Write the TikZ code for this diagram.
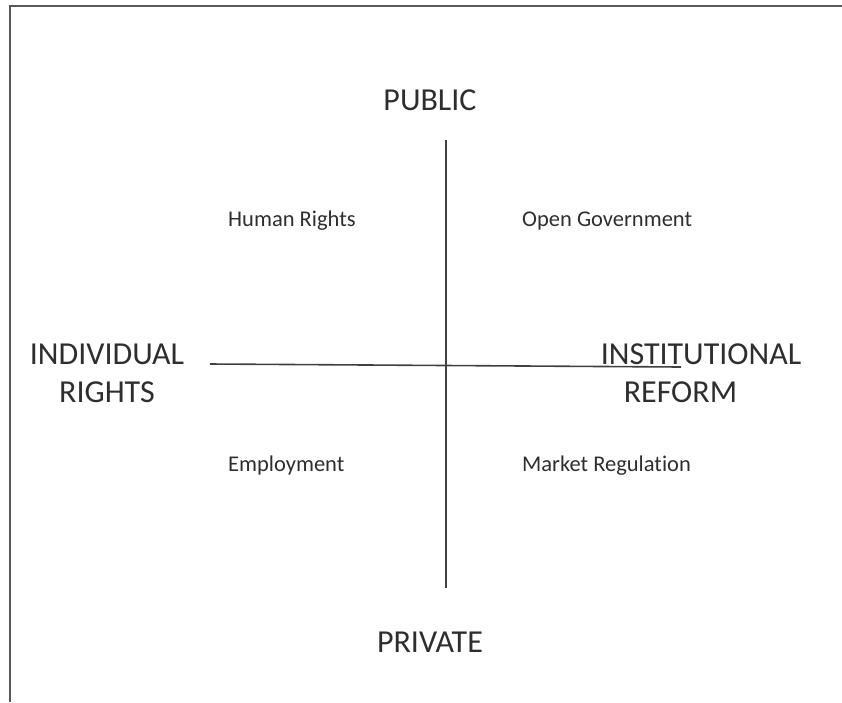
\documentclass[tikz,border=0pt]{standalone}
\usepackage{fontspec}
\setmainfont[Ligatures=NoCommon]{Carlito}
\definecolor{axisgray}{HTML}{404040}
\definecolor{textgray}{HTML}{2E2E2E}
\begin{document}
\begin{tikzpicture}[x=1pt,y=-1pt,
    axislabel/.style={text=textgray,font=\fontsize{32}{38}\selectfont,inner sep=0pt},
    quadlabel/.style={text=textgray,font=\fontsize{22.5}{26}\selectfont,inner sep=0pt,anchor=base west},
    axisline/.style={draw=axisgray,line width=1.6pt}]
      \useasboundingbox (0,0) rectangle (842,702);
      % partial frame
      \draw[gray!70!black,line width=2.2pt] (10,702) -- (10,6) -- (842,6);
      \draw
        (430,100) node[axislabel] (public){PUBLIC}
        (430,642) node[axislabel] (private){PRIVATE}
        (107,373) node[axislabel,align=center] (individual){INDIVIDUAL\\RIGHTS}
        (701,373) node[axislabel,align=left] (institutional){INSTITUTIONAL\\\hspace*{23pt}REFORM};
      \draw
        (228,226) node[quadlabel] (human){Human Rights}
        (522,226) node[quadlabel] (open){Open Government}
        (228,471) node[quadlabel] (employment){Employment}
        (522,471) node[quadlabel] (market){Market Regulation};
      \coordinate (top) at (446,140);
      \coordinate (bottom) at (446,588);
      \coordinate (left) at (210,364);
      \coordinate (right) at (681,367);
      \begin{scope}[axisline]
        \draw (top) to (bottom);
        \draw (left) to (right);
      \end{scope}
    \end{tikzpicture}
\end{document}
